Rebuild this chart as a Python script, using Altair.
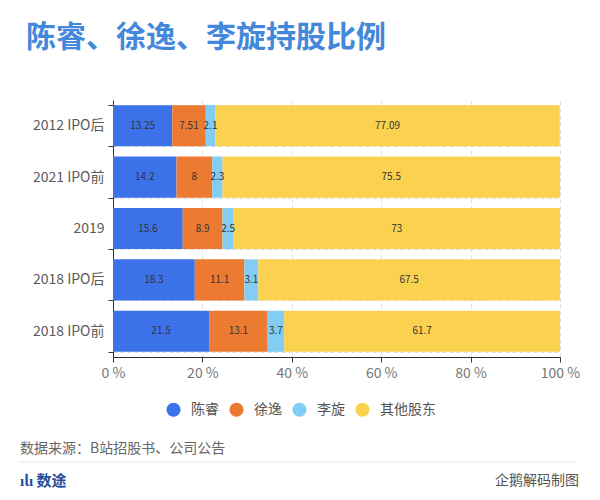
import altair as alt
import pandas as pd

years = ["2012 IPO后", "2021 IPO前", "2019", "2018 IPO后", "2018 IPO前"]
holders = ["陈睿", "徐逸", "李旋", "其他股东"]
chen_rui = [13.25, 14.2, 15.6, 18.3, 21.5]
xu_yi = [7.51, 8, 8.9, 11.1, 13.1]
li_ni = [2.1, 2.3, 2.5, 3.1, 3.7]
others = [77.09, 75.5, 73, 67.5, 61.7]
colors = ["#3B72E9", "#EC7A31", "#83CCF3", "#FBD150"]
x_ticks = [0, 20, 40, 60, 80, 100]

series = [chen_rui, xu_yi, li_ni, others]
rows = []
for i, h in enumerate(holders):
    for j, y in enumerate(years):
        v = series[i][j]
        rows.append({"year": y, "holder": h, "idx": i, "value": v, "label": f"{v:g}"})
df = pd.DataFrame(rows)

FONT = "Noto Sans CJK SC"

base = alt.Chart(df)

bars = base.mark_bar().encode(
    y=alt.Y("year:N", sort=years, title=None,
            scale=alt.Scale(paddingInner=0.2, paddingOuter=0.1),
            axis=alt.Axis(tickBand="extent", grid=True, gridDash=[4, 3], gridColor="#dddddd",
                          domainColor="#333333", tickColor="#333333", tickSize=5,
                          labelFontSize=14, labelColor="#5a5a5a", labelFont=FONT,
                          labelPadding=4)),
    x=alt.X("value:Q", stack="zero", title=None,
            scale=alt.Scale(domain=[0, 100], nice=False),
            axis=alt.Axis(values=x_ticks, labelExpr="datum.value + ' %'", grid=True,
                          gridDash=[4, 3], gridColor="#dddddd", labelFlush=False,
                          domainColor="#333333", tickColor="#333333", tickSize=5,
                          labelFontSize=14, labelColor="#777777", labelFont=FONT,
                          labelPadding=4)),
    color=alt.Color("holder:N", sort=holders,
                    scale=alt.Scale(domain=holders, range=colors),
                    legend=alt.Legend(title=None, orient="none", direction="horizontal",
                                      legendX=53, legendY=302, symbolType="circle",
                                      symbolSize=200, symbolStrokeWidth=0,
                                      labelFontSize=14, labelColor="#555555", labelFont=FONT,
                                      labelOffset=10, columnPadding=10, padding=0)),
    order=alt.Order("idx:Q"),
)

labels = base.transform_window(
    cum="sum(value)", sort=[alt.SortField("idx")], groupby=["year"]
).transform_calculate(
    mid="datum.cum - datum.value / 2"
).mark_text(fontSize=10, color="#333333", font=FONT).encode(
    y=alt.Y("year:N", sort=years),
    x=alt.X("mid:Q"),
    text="label:N",
)

title = alt.Chart(pd.DataFrame({"t": ["陈睿、徐逸、李旋持股比例"]})).mark_text(
    align="left", baseline="middle", fontSize=30, fontWeight="bold", color="#4388DA", font=FONT
).encode(x=alt.value(-87), y=alt.value(-62), text="t:N")

source = alt.Chart(pd.DataFrame({"t": ["数据来源：B站招股书、公司公告"]})).mark_text(
    align="left", baseline="middle", fontSize=14, color="#666666", font=FONT
).encode(x=alt.value(-93), y=alt.value(349), text="t:N")

sep = alt.Chart(pd.DataFrame({"a": [0]})).mark_rule(color="#e6e6e6", strokeWidth=1).encode(
    x=alt.value(-93), x2=alt.value(463), y=alt.value(362)
)

logo = alt.Chart(pd.DataFrame({"t": ["ılı 数途"]})).mark_text(
    align="left", baseline="middle", fontSize=15, fontWeight="bold", color="#1F4E9E", font=FONT
).encode(x=alt.value(-93), y=alt.value(381), text="t:N")

credit = alt.Chart(pd.DataFrame({"t": ["企鹅解码制图"]})).mark_text(
    align="right", baseline="middle", fontSize=14, color="#555555", font=FONT
).encode(x=alt.value(466), y=alt.value(381), text="t:N")

chart = alt.layer(bars, labels, title, source, sep, logo, credit).properties(
    width=447, height=257,
    autosize=alt.AutoSizeParams(type="none"),
    padding={"left": 105, "top": 92, "right": 24, "bottom": 135},
    background="white",
).configure_view(stroke=None)

chart.save("out.html", embed_options={"renderer": "svg", "actions": False})
